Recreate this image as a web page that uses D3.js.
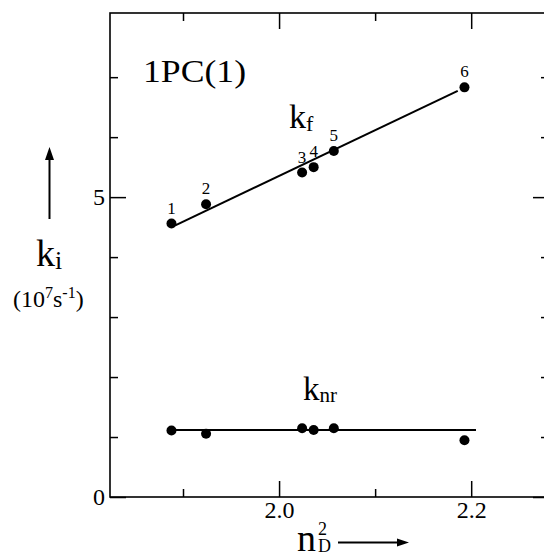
<!DOCTYPE html>
<html><head><meta charset="utf-8"><script src="https://cdn.jsdelivr.net/npm/d3@7"></script>
<style>
svg text, svg tspan { font-family: "Liberation Serif", "Times New Roman", serif !important; }
</style>
</head>
<body style="margin:0">
<script>
// ---- data ----
const pointLabels = ["1", "2", "3", "4", "5", "6"];
const nD2 = [1.888, 1.924, 2.024, 2.036, 2.057, 2.193];
const kf  = [4.56, 4.88, 5.41, 5.50, 5.77, 6.83];
const knr = [1.11, 1.055, 1.145, 1.117, 1.145, 0.945];

const kfFitX  = [1.892, 2.186];
const kfFitY  = [4.53, 6.77];
const knrFitX = [1.888, 2.205];
const knrFitY = [1.117, 1.117];

const xMajorTicks = [2.0, 2.2];
const xMinorTicks = [1.9, 2.1];
const yMajorTicks = [0, 5];
const yMinorTicks = [1, 2, 3, 4, 6, 7];

const SERIF = "Liberation Serif, Times New Roman, serif";

const svg = d3.select("body").append("svg").attr("width", 544).attr("height", 554);

const x = d3.scaleLinear().domain([1.824, 2.281]).range([110, 549]);
const y = d3.scaleLinear().domain([0, 8.07]).range([497, 13]);

const [x0, x1] = x.range();
const [y0, y1] = y.range();

// frame
svg.append("rect")
  .attr("x", x0).attr("y", y1)
  .attr("width", x1 - x0).attr("height", y0 - y1)
  .attr("fill", "none").attr("stroke", "#000").attr("stroke-width", 1.6);

function serif(sel) {
  sel.attr("font-family", SERIF).style("font-family", SERIF, "important");
  return sel;
}

function styleAxis(g) {
  g.select(".domain").remove();
  g.attr("font-family", SERIF).attr("font-size", 24);
  g.selectAll(".tick line").attr("stroke", "#000").attr("stroke-width", 1.5);
  g.selectAll(".tick text").attr("fill", "#000").attr("font-size", 24).call(serif);
}

// bottom
svg.append("g").attr("transform", `translate(0,${y0})`)
  .call(d3.axisBottom(x).tickValues(xMajorTicks).tickSize(-16).tickPadding(4).tickFormat(d3.format(".1f")))
  .call(styleAxis);
svg.append("g").attr("transform", `translate(0,${y0})`)
  .call(d3.axisBottom(x).tickValues(xMinorTicks).tickSize(-8).tickFormat(""))
  .call(styleAxis);
// top
svg.append("g").attr("transform", `translate(0,${y1})`)
  .call(d3.axisTop(x).tickValues(xMajorTicks).tickSize(-16).tickFormat(""))
  .call(styleAxis);
svg.append("g").attr("transform", `translate(0,${y1})`)
  .call(d3.axisTop(x).tickValues(xMinorTicks).tickSize(-8).tickFormat(""))
  .call(styleAxis);
// left
svg.append("g").attr("transform", `translate(${x0},0)`)
  .call(d3.axisLeft(y).tickValues(yMajorTicks).tickSize(-16).tickPadding(5).tickFormat(d3.format("d")))
  .call(styleAxis);
svg.append("g").attr("transform", `translate(${x0},0)`)
  .call(d3.axisLeft(y).tickValues(yMinorTicks).tickSize(-8).tickFormat(""))
  .call(styleAxis);
// right
svg.append("g").attr("transform", `translate(${x1},0)`)
  .call(d3.axisRight(y).tickValues(yMajorTicks).tickSize(-16).tickFormat(""))
  .call(styleAxis);
svg.append("g").attr("transform", `translate(${x1},0)`)
  .call(d3.axisRight(y).tickValues(yMinorTicks).tickSize(-8).tickFormat(""))
  .call(styleAxis);

// fit lines
const line = d3.line().x(d => x(d[0])).y(d => y(d[1]));
svg.append("path").datum(d3.zip(kfFitX, kfFitY)).attr("d", line)
  .attr("fill", "none").attr("stroke", "#000").attr("stroke-width", 2);
svg.append("path").datum(d3.zip(knrFitX, knrFitY)).attr("d", line)
  .attr("fill", "none").attr("stroke", "#000").attr("stroke-width", 2);

// points
svg.append("g").selectAll("circle").data(d3.zip(nD2, kf)).join("circle")
  .attr("cx", d => x(d[0])).attr("cy", d => y(d[1])).attr("r", 5).attr("fill", "#000");
svg.append("g").selectAll("circle").data(d3.zip(nD2, knr)).join("circle")
  .attr("cx", d => x(d[0])).attr("cy", d => y(d[1])).attr("r", 5).attr("fill", "#000");

function txt(xp, yp, size) {
  return svg.append("text").attr("x", xp).attr("y", yp)
    .attr("font-size", size).call(serif);
}

// point labels
svg.append("g").selectAll("text").data(d3.zip(nD2, kf, pointLabels)).join("text")
  .attr("x", d => x(d[0])).attr("y", d => y(d[1]) - 10)
  .attr("text-anchor", "middle")
  .attr("font-size", 17).call(serif)
  .text(d => d[2]);

// title
txt(143, 82, 32).attr("textLength", 103).attr("lengthAdjust", "spacingAndGlyphs").text("1PC(1)");

// series labels
const kfT = txt(289, 128, 34);
kfT.append("tspan").text("k");
kfT.append("tspan").attr("dy", 3).attr("font-size", 22).text("f");

const knrT = txt(303, 400, 33);
knrT.append("tspan").text("k");
knrT.append("tspan").attr("dy", 2).attr("font-size", 21).text("nr");

// y label
const kiT = txt(36, 266, 38);
kiT.append("tspan").text("k");
kiT.append("tspan").attr("dy", 3).attr("font-size", 26).text("i");

const unitT = txt(13, 307, 24);
unitT.append("tspan").text("(10");
unitT.append("tspan").attr("dy", -9).attr("font-size", 16).text("7");
unitT.append("tspan").attr("dy", 9).text("s");
unitT.append("tspan").attr("dy", -9).attr("font-size", 16).text("-1");
unitT.append("tspan").attr("dy", 9).text(")");

// y arrow
svg.append("line").attr("x1", 49.5).attr("x2", 49.5).attr("y1", 219).attr("y2", 156)
  .attr("stroke", "#000").attr("stroke-width", 2);
svg.append("path").attr("d", "M49.5,147 L45,160 L54,160 Z").attr("fill", "#000");

// x label
txt(297, 551, 38).text("n");
txt(318, 535, 18).text("2");
txt(318, 552, 18).text("D");

// x arrow
svg.append("line").attr("x1", 338).attr("x2", 400).attr("y1", 542.5).attr("y2", 542.5)
  .attr("stroke", "#000").attr("stroke-width", 2);
svg.append("path").attr("d", "M409,542.5 L397,538.5 L397,546.5 Z").attr("fill", "#000");
</script>
</body>
</html>
